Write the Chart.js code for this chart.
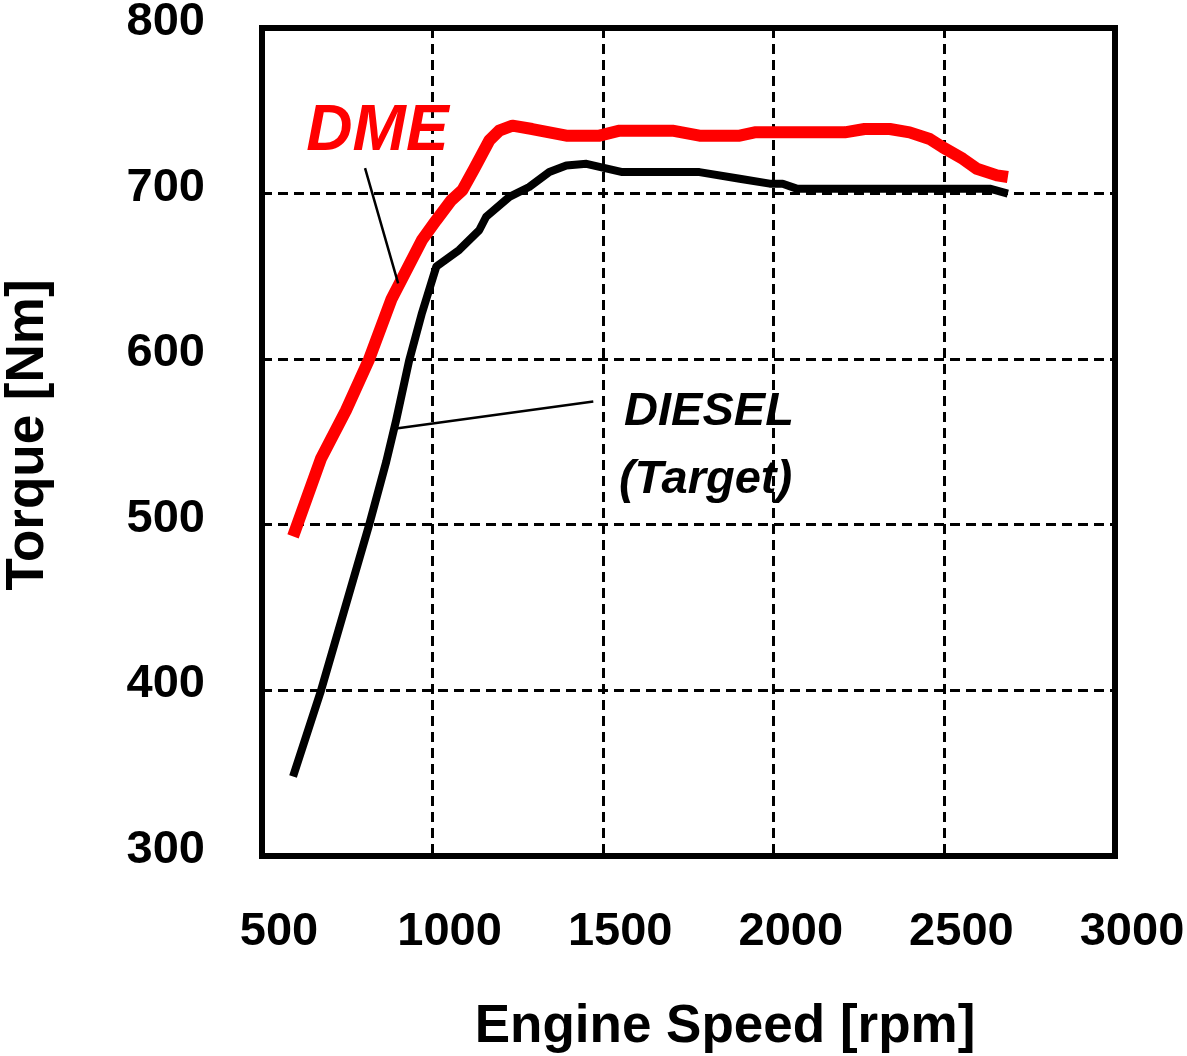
<!DOCTYPE html>
<html>
<head>
<meta charset="utf-8">
<script src="https://cdn.jsdelivr.net/npm/chart.js@4/dist/chart.umd.min.js"></script>
<style>
  html, body { margin: 0; padding: 0; background: #ffffff; }
  canvas { display: block; }
</style>
</head>
<body>
<canvas id="c" width="1187" height="1056"></canvas>
<script>
// ---- Data ----
const xTicks = [500, 1000, 1500, 2000, 2500, 3000];
const yTicks = [300, 400, 500, 600, 700, 800];

const dmeRpm    = [591, 673, 746, 814, 879, 969, 1011, 1055, 1087, 1122, 1166, 1195, 1234, 1292, 1392, 1489, 1548, 1703, 1782, 1900, 1944, 2208, 2266, 2340, 2398, 2457, 2495, 2554, 2595, 2654, 2686];
const dmeTorque = [493, 540, 569, 600, 636, 672, 684, 696, 702, 715, 732, 738, 741, 739, 735, 735, 738, 738, 735, 735, 737, 737, 739, 739, 737, 733, 728, 721, 715, 711, 710];

const dieselRpm    = [591, 673, 814, 864, 893, 931, 969, 1011, 1078, 1137, 1157, 1225, 1283, 1342, 1392, 1451, 1556, 1782, 1900, 1988, 2026, 2067, 2633, 2686];
const dieselTorque = [348, 400, 500, 538, 563, 599, 628, 656, 666, 678, 686, 698, 704, 713, 717, 718, 713, 713, 709, 706, 706, 703, 703, 700];

const xTitle = 'Engine Speed [rpm]';
const yTitle = 'Torque [Nm]';
const FONT = '"Liberation Sans", Arial, Helvetica, sans-serif';

function pts(xs, ys) { return xs.map((x, i) => ({ x: x, y: ys[i] })); }

const decorPlugin = {
  id: 'decor',
  afterDraw(chart) {
    const ctx = chart.ctx;
    const a = chart.chartArea;
    const sx = chart.scales.x, sy = chart.scales.y;
    const P = (r, t) => [sx.getPixelForValue(r), sy.getPixelForValue(t)];
    ctx.save();
    // frame
    ctx.strokeStyle = '#000';
    ctx.lineWidth = 6;
    ctx.setLineDash([]);
    ctx.strokeRect(a.left, a.top, a.right - a.left, a.bottom - a.top);

    // leader lines
    ctx.lineWidth = 2.5;
    ctx.beginPath();
    let p1 = P(802, 715.4), p2 = P(899, 645.8);
    ctx.moveTo(p1[0], p1[1]); ctx.lineTo(p2[0], p2[1]);
    p1 = P(1471, 574.5); p2 = P(893, 558.2);
    ctx.moveTo(p1[0], p1[1]); ctx.lineTo(p2[0], p2[1]);
    ctx.stroke();

    // annotations
    ctx.textBaseline = 'alphabetic';
    ctx.fillStyle = '#ff0000';
    ctx.font = 'italic bold 64px ' + FONT;
    ctx.textAlign = 'left';
    let q = P(630, 726.2);
    ctx.fillText('DME', q[0], q[1]);

    ctx.fillStyle = '#000';
    ctx.font = 'italic bold 47px ' + FONT;
    ctx.textAlign = 'center';
    q = P(1810, 560);
    ctx.fillText('DIESEL', q[0], q[1]);
    q = P(1800, 519.5);
    ctx.fillText('(Target)', q[0], q[1]);

    // axis titles
    ctx.font = 'bold 53px ' + FONT;
    ctx.textAlign = 'center';
    ctx.fillText(xTitle, 725, 1042);
    ctx.save();
    ctx.translate(43, 435);
    ctx.rotate(-Math.PI / 2);
    ctx.fillText(yTitle, 0, 0);
    ctx.restore();
    ctx.restore();
  }
};

new Chart(document.getElementById('c'), {
  type: 'scatter',
  data: {
    datasets: [
      {
        label: 'DIESEL (Target)',
        data: pts(dieselRpm, dieselTorque),
        showLine: true,
        borderColor: '#000000',
        backgroundColor: '#000000',
        borderWidth: 8,
        borderCapStyle: 'butt',
        borderJoinStyle: 'round',
        pointRadius: 0,
        pointHoverRadius: 0,
        tension: 0
      },
      {
        label: 'DME',
        data: pts(dmeRpm, dmeTorque),
        showLine: true,
        borderColor: '#ff0000',
        backgroundColor: '#ff0000',
        borderWidth: 12,
        borderCapStyle: 'butt',
        borderJoinStyle: 'round',
        pointRadius: 0,
        pointHoverRadius: 0,
        tension: 0
      }
    ]
  },
  options: {
    responsive: false,
    devicePixelRatio: 1,
    animation: false,
    events: [],
    layout: { padding: { top: 28, right: 72, left: 0, bottom: 0 } },
    plugins: {
      legend: { display: false },
      tooltip: { enabled: false },
      title: { display: false }
    },
    scales: {
      x: {
        type: 'linear',
        min: 500, max: 3000,
        afterBuildTicks: s => { s.ticks = xTicks.map(v => ({ value: v })); },
        afterFit: s => { s.height = 200; s.paddingLeft = 0; s.paddingRight = 0; },
        ticks: {
          color: '#000',
          font: { family: FONT, size: 47, weight: 'bold' },
          padding: 48,
          labelOffset: 17,
          maxRotation: 0,
          autoSkip: false,
          callback: v => String(v)
        },
        grid: { color: '#000', lineWidth: 3, drawTicks: false },
        border: { display: false, dash: [10, 6] }
      },
      y: {
        type: 'linear',
        min: 300, max: 800,
        afterBuildTicks: s => { s.ticks = yTicks.map(v => ({ value: v })); },
        afterFit: s => { s.width = 262; s.paddingTop = 0; s.paddingBottom = 0; },
        ticks: {
          color: '#000',
          font: { family: FONT, size: 47, weight: 'bold' },
          padding: 57,
          labelOffset: -6,
          autoSkip: false,
          callback: v => String(v)
        },
        grid: { color: '#000', lineWidth: 3, drawTicks: false },
        border: { display: false, dash: [10, 6] }
      }
    }
  },
  plugins: [decorPlugin]
});
</script>
</body>
</html>
